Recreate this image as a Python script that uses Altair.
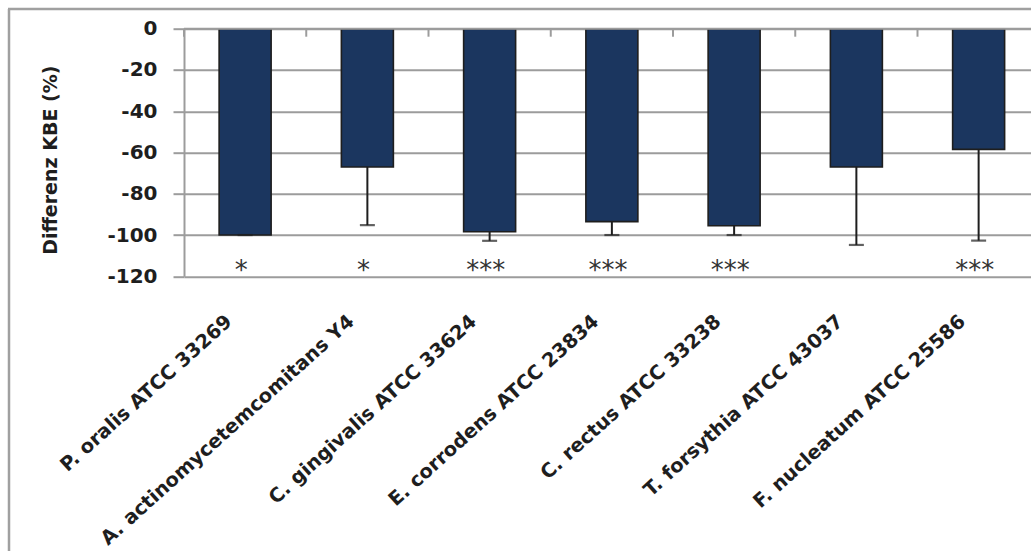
import altair as alt
import pandas as pd

# Bacterial strains and the change in colony-forming units (KBE) in percent
strains = [
    "P. oralis ATCC 33269",
    "A. actinomycetemcomitans Y4",
    "C. gingivalis ATCC 33624",
    "E. corrodens ATCC 23834",
    "C. rectus ATCC 33238",
    "T. forsythia ATCC 43037",
    "F. nucleatum ATCC 25586",
]
diff_kbe = [-100.0, -67.0, -98.4, -93.5, -95.5, -67.0, -58.5]
sd = [0.0, 28.2, 4.4, 6.5, 4.5, 37.8, 44.2]
signif = ["*", "*", "***", "***", "***", "", "***"]
y_ticks = [0, -20, -40, -60, -80, -100, -120]
sig_level = -117.5

df = pd.DataFrame({"strain": strains, "diff": diff_kbe, "sd": sd, "sig": signif})
df["low"] = df["diff"] - df["sd"]
df["sig_y"] = sig_level

W = 847          # plot width (continues past the right edge of the page)
H = 247.6        # plot height
STEP = 122.25    # width of one category band
FONT = "DejaVu Sans"
GRID = "#9c9c9c"
INK = "#1e1e1e"

x_scale = alt.Scale(range=[0, STEP * len(strains)], paddingInner=0, paddingOuter=0)
y_scale = alt.Scale(domain=[-120, 0], nice=False)

x_enc = alt.X(
    "strain:N",
    sort=strains,
    scale=x_scale,
    axis=alt.Axis(
        title=None,
        labelAngle=-42,
        labelAlign="right",
        labelBaseline="middle",
        labelPadding=42,
        labelOffset=-16,
        labelFont=FONT,
        labelFontWeight="bold",
        labelFontSize=19.5,
        labelColor=INK,
        labelLimit=400,
        ticks=False,
        tickSize=0,
        domain=False,
        grid=False,
    ),
)

y_enc = alt.Y(
    "diff:Q",
    scale=y_scale,
    axis=alt.Axis(
        title="Differenz KBE (%)",
        values=y_ticks,
        labelExpr="replace(datum.label, '\u2212', '-')",
        labelFont=FONT,
        labelFontWeight="bold",
        labelFontSize=20,
        labelColor=INK,
        labelPadding=16,
        tickSize=11,
        tickColor=GRID,
        tickWidth=2,
        domainColor=GRID,
        domainWidth=2,
        gridColor=GRID,
        gridWidth=2,
        titleFont=FONT,
        titleFontWeight="bold",
        titleFontSize=19,
        titleColor=INK,
        titleAngle=270,
        titleAlign="center",
        titleBaseline="middle",
        titleX=-134,
        titleY=131,
    ),
)

base = alt.Chart(df)

bars = base.mark_bar(size=52, color="#1b365f", stroke=INK, strokeWidth=1.6).encode(
    x=x_enc, y=y_enc
)

# one-sided (downward) error bars
err = base.mark_rule(color=INK, strokeWidth=2).encode(
    x=alt.X("strain:N", sort=strains, scale=x_scale),
    y=alt.Y("diff:Q", scale=y_scale),
    y2="low:Q",
)
caps = base.mark_tick(color=INK, size=15, thickness=2.2, orient="horizontal").encode(
    x=alt.X("strain:N", sort=strains, scale=x_scale),
    y=alt.Y("low:Q", scale=y_scale),
)

# category axis sits at zero: line plus short ticks at the band edges
zero_line = alt.Chart(pd.DataFrame({"z": [0]})).mark_rule(color=GRID, strokeWidth=2).encode(
    y=alt.datum(0, scale=y_scale), x=alt.value(0), x2=alt.value(W)
)
cat_ticks = base.mark_rule(color=GRID, strokeWidth=2).encode(
    x=alt.X("strain:N", sort=strains, scale=x_scale, bandPosition=0),
    y=alt.value(0),
    y2=alt.value(8),
)

stars = base.mark_text(
    font=FONT, fontSize=26, color="#333333", baseline="middle", align="center", dx=-4
).encode(
    x=alt.X("strain:N", sort=strains, scale=x_scale),
    y=alt.Y("sig_y:Q", scale=y_scale),
    text="sig:N",
)

# outer chart frame (left and top edges)
frame_df = pd.DataFrame({"z": [0]})
frame_left = alt.Chart(frame_df).mark_rule(color="#a0a0a0", strokeWidth=2.5).encode(
    x=alt.value(-175), y=alt.value(-19.7), y2=alt.value(560)
)
frame_top = alt.Chart(frame_df).mark_rule(color="#a0a0a0", strokeWidth=2.5).encode(
    x=alt.value(-176), x2=alt.value(W + 10), y=alt.value(-19.7)
)

chart = (
    alt.layer(bars, err, caps, zero_line, cat_ticks, stars, frame_left, frame_top)
    .properties(
        width=W,
        height=H,
        autosize=alt.AutoSizeParams(type="none"),
        padding={"left": 184, "top": 28.7, "right": 0, "bottom": 551 - 28.7 - H},
        background="white",
    )
    .configure_view(stroke=None)
)

chart.save("out.html", embed_options={"renderer": "svg", "actions": False})
